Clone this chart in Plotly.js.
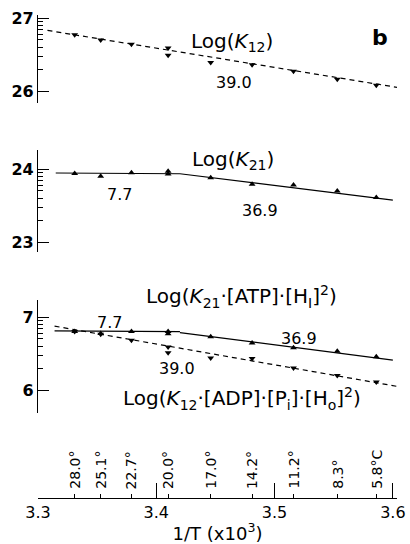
<!DOCTYPE html>
<html><head><meta charset="utf-8">
<script src="https://cdn.plot.ly/plotly-3.0.1.min.js"></script>
<style>html,body{margin:0;padding:0;background:#fff}</style>
</head><body><div id="chart" style="width:410px;height:544px"></div>
<script>
// ---- data ----
const invT       = [3.331, 3.353, 3.379, 3.410, 3.410, 3.446, 3.481, 3.516, 3.553, 3.586];
const logK12     = [26.77, 26.70, 26.64, 26.59, 26.49, 26.39, 26.36, 26.27, 26.16, 26.08];
const logK21     = [23.94, 23.90, 23.95, 23.97, 23.93, 23.88, 23.79, 23.78, 23.70, 23.61];
const logK21ATP  = [6.80, 6.775, 6.80, 6.80, 6.77, 6.73, 6.645, 6.58, 6.53, 6.455];
const logK12ADP  = [6.80, 6.765, 6.68, 6.59, 6.51, 6.44, 6.43, 6.30, 6.20, 6.11];

const fitK12X = [3.308, 3.6035];       const fitK12Y = [26.83, 26.05];
const fitK21X = [3.315, 3.420, 3.6];   const fitK21Y = [23.945, 23.935, 23.575];
const fitATPX = [3.314, 3.420, null, 3.420, 3.6]; const fitATPY = [6.81, 6.80, null, 6.785, 6.41];
const fitADPX = [3.314, 3.6035];       const fitADPY = [6.875, 6.05];

const tempPos    = [3.331, 3.353, 3.379, 3.410, 3.446, 3.481, 3.516, 3.553, 3.586];
const tempLabels = ["28.0°", "25.1°", "22.7°", "20.0°", "17.0°", "14.2°", "11.2°", "8.3°", "5.8°C"];
const xTickVals  = [3.3, 3.4, 3.5, 3.6];
const xTickText  = ["3.3", "3.4", "3.5", "3.6"];
const p1Ticks = [26, 27], p2Ticks = [23, 24], p3Ticks = [6, 7];
const energyLabels = ["39.0", "7.7", "36.9", "7.7", "36.9", "39.0"];

// ---- geometry ----
const W = 410, H = 544, L = 38, R = 13, T = 10, B = 46;
const PW = W - L - R, PH = H - T - B;
const px = (x, y) => ({x: (x - L) / PW, y: (H - B - y) / PH});
const dom = (top, bot) => [(H - B - bot) / PH, (H - B - top) / PH];
const logMinor = base => [2,3,4,5,6,7,8,9].map(k => base + Math.log10(k));

const FONT = "DejaVu Sans, Liberation Sans, sans-serif";
const black = "#000";

function yax(domain, range, ticks) {
  return {
    domain: domain, range: range, anchor: "x",
    showline: true, linecolor: black, linewidth: 1.3,
    ticks: "inside", ticklen: 11, tickwidth: 1.3, tickcolor: black,
    tickmode: "array", tickvals: ticks, ticktext: ticks.map(String),
    minor: {tickmode: "array", tickvals: logMinor(ticks[0]), ticks: "inside", ticklen: 5, tickwidth: 1.1, tickcolor: black},
    showgrid: false, zeroline: false,
    tickfont: {family: FONT, size: 16, color: black, weight: "bold"}
  };
}

const dash = "5px,4px";
const traces = [
  {x: fitK12X, y: fitK12Y, yaxis: "y", mode: "lines", line: {color: black, width: 1.2, dash: dash}},
  {x: invT, y: logK12, yaxis: "y", mode: "markers", marker: {symbol: "triangle-down", size: 6, color: black}},
  {x: fitK21X, y: fitK21Y, yaxis: "y2", mode: "lines", line: {color: black, width: 1.2}},
  {x: invT, y: logK21, yaxis: "y2", mode: "markers", marker: {symbol: "triangle-up", size: 6, color: black}},
  {x: fitATPX, y: fitATPY, yaxis: "y3", mode: "lines", connectgaps: false, line: {color: black, width: 1.2}},
  {x: fitADPX, y: fitADPY, yaxis: "y3", mode: "lines", line: {color: black, width: 1.2, dash: dash}},
  {x: invT, y: logK21ATP, yaxis: "y3", mode: "markers", marker: {symbol: "triangle-up", size: 6, color: black}},
  {x: invT, y: logK12ADP, yaxis: "y3", mode: "markers", marker: {symbol: "triangle-down", size: 6, color: black}}
];

function txt(text, xp, yp, size, extra) {
  const p = px(xp, yp);
  return Object.assign({xref: "paper", yref: "paper", x: p.x, y: p.y, text: text, showarrow: false,
    xanchor: "center", yanchor: "middle", font: {family: FONT, size: size, color: black}}, extra || {});
}

const annotations = [
  txt("Log(<i>K</i><sub>12</sub>)", 232, 42, 20),
  txt("<b>b</b>", 380, 38, 22),
  txt(energyLabels[0], 234, 82, 16),
  txt("Log(<i>K</i><sub>21</sub>)", 233, 160, 20),
  txt(energyLabels[1], 119, 195, 16),
  txt(energyLabels[2], 260, 210, 16),
  txt("Log(<i>K</i><sub>21</sub>·[ATP]·[H<sub>I</sub>]<sup>2</sup>)", 241, 296, 20),
  txt(energyLabels[3], 109, 322, 16),
  txt(energyLabels[4], 299, 338, 16),
  txt(energyLabels[5], 177, 368, 16),
  txt("Log(<i>K</i><sub>12</sub>·[ADP]·[P<sub>i</sub>]·[H<sub>o</sub>]<sup>2</sup>)", 242, 398, 20)
];
tempPos.forEach((t, i) => {
  annotations.push({xref: "x", yref: "paper", x: t, y: (H - B - 491) / PH, text: tempLabels[i],
    showarrow: false, textangle: -90, xanchor: "center", yanchor: "bottom",
    font: {family: FONT, size: 14, color: black}});
});

const layout = {
  width: W, height: H, margin: {l: L, r: R, t: T, b: B},
  paper_bgcolor: "#fff", plot_bgcolor: "#fff", showlegend: false,
  xaxis: {
    range: [3.3, 3.6035], anchor: "free", position: 0,
    showline: true, linecolor: black, linewidth: 1.3,
    ticks: "inside", ticklen: 15, tickwidth: 1.3, tickcolor: black,
    tickmode: "array", tickvals: xTickVals, ticktext: xTickText,
    minor: {tickmode: "array", tickvals: tempPos, ticks: "inside", ticklen: 4, tickwidth: 1.1, tickcolor: black},
    showgrid: false, zeroline: false,
    tickfont: {family: FONT, size: 16, color: black},
    title: {text: "1/T (x10<sup>3</sup>)", font: {family: FONT, size: 18, color: black}, standoff: 8}
  },
  yaxis: yax(dom(15, 103), [27 - 85/73, 27 + 3/73], p1Ticks),
  yaxis2: yax(dom(150, 252), [24 - 83/73, 24 + 19/73], p2Ticks),
  yaxis3: yax(dom(300, 413), [7 - 96/73, 7 + 17/73], p3Ticks),
  annotations: annotations
};

Plotly.newPlot("chart", traces, layout, {displayModeBar: false});
</script></body></html>
